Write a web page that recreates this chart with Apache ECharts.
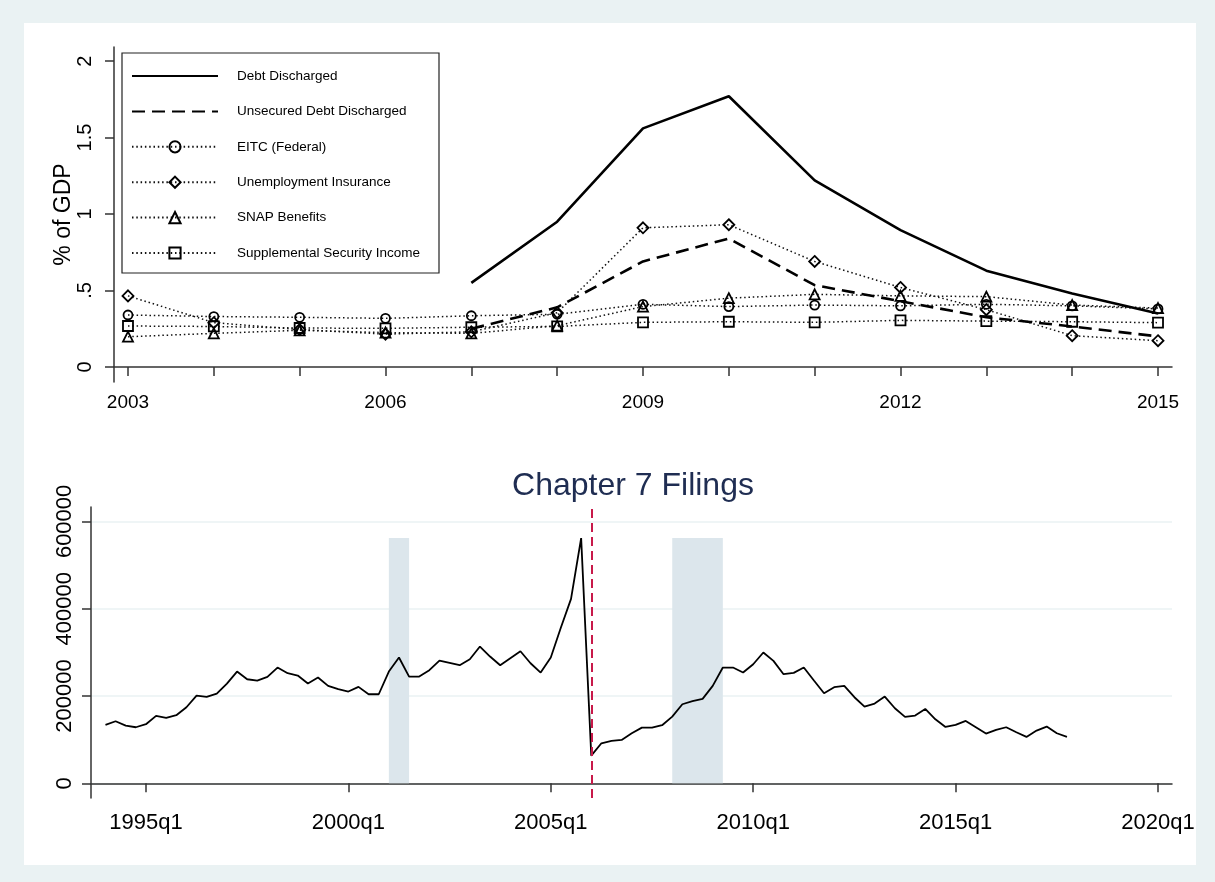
<!DOCTYPE html>
<html lang="en">
<head>
    <meta charset="UTF-8">
    <title>Debt Discharged and Chapter 7 Filings</title>
    <script src="https://cdn.jsdelivr.net/npm/echarts@6/dist/echarts.min.js"></script>
    <style>
        html, body { margin: 0; padding: 0; background: #eaf2f3; }
        #main { width: 1215px; height: 882px; }
    </style>
</head>
<body>
    <div id="main"></div>
    <script>
        // top panel: % of GDP by year
        var years = [2003, 2004, 2005, 2006, 2007, 2008, 2009, 2010, 2011, 2012, 2013, 2014, 2015];
        var debtDischarged = [null, null, null, null, 0.55, 0.95, 1.56, 1.77, 1.22, 0.895, 0.63, 0.48, 0.35];
        var unsecuredDischarged = [null, null, null, null, 0.25, 0.39, 0.69, 0.84, 0.535, 0.43, 0.325, 0.265, 0.20];
        var eitc = [0.34, 0.33, 0.325, 0.318, 0.335, 0.345, 0.41, 0.395, 0.405, 0.40, 0.41, 0.40, 0.38];
        var unemployment = [0.465, 0.29, 0.245, 0.215, 0.23, 0.355, 0.91, 0.93, 0.69, 0.52, 0.375, 0.205, 0.172];
        var snap = [0.198, 0.22, 0.24, 0.225, 0.22, 0.27, 0.395, 0.45, 0.475, 0.465, 0.46, 0.405, 0.385];
        var ssi = [0.268, 0.265, 0.255, 0.253, 0.26, 0.265, 0.292, 0.296, 0.292, 0.305, 0.30, 0.296, 0.29];
        var topYTicks = [0, 0.5, 1, 1.5, 2];
        var topYLabels = ['0', '.5', '1', '1.5', '2'];
        var topXLabels = [2003, 2006, 2009, 2012, 2015];

        // bottom panel: quarterly chapter 7 filings, 1994q1 .. 2017q4
        var filingsStart = '1994q1';
        var filings = [
            133700, 142100, 132200, 128400,
            135300, 154400, 149800, 155900,
            174200, 201000, 197900, 205600,
            228500, 256000, 238400, 235400,
            243800, 265200, 252200, 246800,
            228500, 242300, 223100, 215500,
            210200, 220900, 204000, 204000,
            256000, 288100, 244500, 244500,
            259100, 281200, 275900, 270500,
            284300, 313300, 290400, 270500,
            286600, 302600, 275100, 253700,
            288100, 356900, 422600, 561700,
            63400, 91700, 97100, 99300,
            114600, 127600, 127600, 133000,
            152800, 181100, 188000, 193300,
            223100, 265200, 265200, 253700,
            272800, 299600, 280500, 249900,
            252900, 265200, 235400, 206300,
            220100, 223100, 197200, 175800,
            182600, 198700, 171900, 152100,
            155100, 170400, 146700, 129100,
            133700, 142900, 128400, 113900,
            122300, 128400, 116900, 106200,
            120700, 129900, 114600, 106200
        ];
        var recessions = [['2001q1', '2001q3'], ['2008q1', '2009q2']];
        var reformQuarter = '2006q1';
        var bottomYTicks = [0, 200000, 400000, 600000];
        var bottomXLabels = ['1995q1', '2000q1', '2005q1', '2010q1', '2015q1', '2020q1'];

        var FONT = '"Liberation Sans", Arial, sans-serif';
        var AXIS = '#333';

        function tq(s) {
            var p = s.split('q');
            return (parseInt(p[0], 10) - 1960) * 4 + parseInt(p[1], 10) - 1;
        }
        function tqLabel(v) {
            return (Math.floor(v / 4) + 1960) + 'q' + (v % 4 + 1);
        }

        var t0 = tq(filingsStart);
        var filingsData = filings.map(function (v, i) { return [t0 + i, v]; });
        var filingsMax = Math.max.apply(null, filings);

        function pairs(vals) {
            return years.map(function (y, i) { return [y, vals[i]]; });
        }

        function dottedSeries(name, vals, symbol, size) {
            return {
                name: name,
                type: 'line',
                xAxisIndex: 0,
                yAxisIndex: 0,
                data: pairs(vals),
                symbol: symbol,
                symbolSize: size,
                showAllSymbol: true,
                itemStyle: { color: 'rgba(255,255,255,0)', borderColor: '#000', borderWidth: 1.8 },
                lineStyle: { color: '#111', width: 1.5, type: [1.5, 2.8] },
                emphasis: { disabled: true },
                z: 3
            };
        }

        var noMarker = { color: 'rgba(0,0,0,0)', borderWidth: 0 };

        var chart = echarts.init(document.getElementById('main'));

        var option = {
            backgroundColor: '#eaf2f3',
            animation: false,
            textStyle: { fontFamily: FONT },
            graphic: [
                {
                    type: 'rect', z: -10,
                    shape: { x: 24, y: 23, width: 1172, height: 842 },
                    style: { fill: '#fff' }
                },
                {
                    type: 'rect', z: 3,
                    shape: { x: 122, y: 53, width: 317, height: 220 },
                    style: { fill: '#fff', stroke: '#222', lineWidth: 1.2 }
                }
            ],
            title: {
                text: 'Chapter 7 Filings',
                left: 628,
                textAlign: 'center',
                top: 465,
                textStyle: { fontFamily: FONT, fontWeight: 'normal', fontSize: 32, color: '#1f2d52' }
            },
            legend: {
                orient: 'vertical',
                left: 131,
                top: 69,
                padding: 0,
                itemWidth: 86,
                itemHeight: 14,
                itemGap: 21.4,
                z: 5,
                data: [
                    { name: 'Debt Discharged', itemStyle: noMarker },
                    { name: 'Unsecured Debt Discharged', itemStyle: noMarker },
                    'EITC (Federal)', 'Unemployment Insurance', 'SNAP Benefits', 'Supplemental Security Income'
                ],
                textStyle: { fontFamily: FONT, fontSize: 13.5, color: '#000', padding: [0, 0, 0, 14] }
            },
            grid: [
                { left: 114, top: 47, width: 1058, height: 335 },
                { left: 91, top: 507, width: 1081, height: 291 }
            ],
            xAxis: [
                {
                    type: 'value', gridIndex: 0,
                    min: 2002.837, max: 2015.163,
                    axisLine: { lineStyle: { color: AXIS, width: 1.5 } },
                    axisTick: { customValues: years, length: 9, lineStyle: { color: AXIS, width: 1.5 } },
                    axisLabel: {
                        customValues: topXLabels, margin: 11,
                        fontSize: 19, color: '#000', fontFamily: FONT,
                        formatter: function (v) { return String(v); }
                    },
                    splitLine: { show: false }
                },
                {
                    type: 'value', gridIndex: 1,
                    min: 134.57, max: 241.38,
                    axisLine: { lineStyle: { color: AXIS, width: 1.5 } },
                    axisTick: { customValues: bottomXLabels.map(tq), length: 9, lineStyle: { color: AXIS, width: 1.5 } },
                    axisLabel: {
                        customValues: bottomXLabels.map(tq), margin: 14,
                        fontSize: 22, color: '#000', fontFamily: FONT,
                        formatter: function (v) { return tqLabel(v); }
                    },
                    splitLine: { show: false }
                }
            ],
            yAxis: [
                {
                    type: 'value', gridIndex: 0,
                    min: -0.098, max: 2.092,
                    name: '% of GDP',
                    nameLocation: 'middle',
                    nameGap: 39,
                    nameMoveOverlap: false,
                    nameTextStyle: { fontFamily: FONT, fontSize: 23, color: '#000' },
                    axisLine: { show: true, lineStyle: { color: AXIS, width: 1.5 } },
                    axisTick: { show: true, customValues: topYTicks, length: 9, lineStyle: { color: AXIS, width: 1.5 } },
                    axisLabel: {
                        customValues: topYTicks, rotate: 90, margin: 19,
                        fontSize: 20, color: '#000', fontFamily: FONT,
                        formatter: function (v) { return topYLabels[topYTicks.indexOf(v)]; }
                    },
                    splitLine: { show: false }
                },
                {
                    type: 'value', gridIndex: 1,
                    min: -33700, max: 633000,
                    axisLine: { show: true, lineStyle: { color: AXIS, width: 1.5 } },
                    axisTick: { show: true, customValues: bottomYTicks, length: 9, lineStyle: { color: AXIS, width: 1.5 } },
                    axisLabel: {
                        customValues: bottomYTicks, rotate: 90, margin: 15,
                        fontSize: 22, color: '#000', fontFamily: FONT,
                        formatter: function (v) { return String(v); }
                    },
                    splitLine: { show: true, lineStyle: { color: '#eaf2f3', width: 1.5 } }
                }
            ],
            series: [
                {
                    name: 'Debt Discharged',
                    type: 'line', xAxisIndex: 0, yAxisIndex: 0,
                    data: pairs(debtDischarged),
                    symbol: 'none',
                    lineStyle: { color: '#000', width: 2.6, type: 'solid' },
                    itemStyle: { color: '#000' },
                    emphasis: { disabled: true },
                    z: 4
                },
                {
                    name: 'Unsecured Debt Discharged',
                    type: 'line', xAxisIndex: 0, yAxisIndex: 0,
                    data: pairs(unsecuredDischarged),
                    symbol: 'none',
                    lineStyle: { color: '#000', width: 2.6, type: [13, 7] },
                    itemStyle: { color: '#000' },
                    emphasis: { disabled: true },
                    z: 4
                },
                dottedSeries('EITC (Federal)', eitc, 'circle', 9),
                dottedSeries('Unemployment Insurance', unemployment, 'diamond', 11),
                dottedSeries('SNAP Benefits', snap, 'triangle', 10),
                dottedSeries('Supplemental Security Income', ssi, 'rect', 10),
                {
                    name: 'Chapter 7 Filings',
                    type: 'line', xAxisIndex: 1, yAxisIndex: 1,
                    data: filingsData,
                    symbol: 'none',
                    lineStyle: { color: '#000', width: 1.8 },
                    itemStyle: { color: '#000' },
                    emphasis: { disabled: true },
                    markArea: {
                        silent: true,
                        itemStyle: { color: '#dce6ec' },
                        data: recessions.map(function (r) {
                            return [{ xAxis: tq(r[0]), yAxis: 0 }, { xAxis: tq(r[1]), yAxis: filingsMax }];
                        })
                    },
                    markLine: {
                        silent: true,
                        symbol: 'none',
                        label: { show: false },
                        lineStyle: { color: '#c8194a', width: 2, type: [9, 5] },
                        data: [{ xAxis: tq(reformQuarter) }]
                    }
                }
            ]
        };

        chart.setOption(option);
    </script>
</body>
</html>
